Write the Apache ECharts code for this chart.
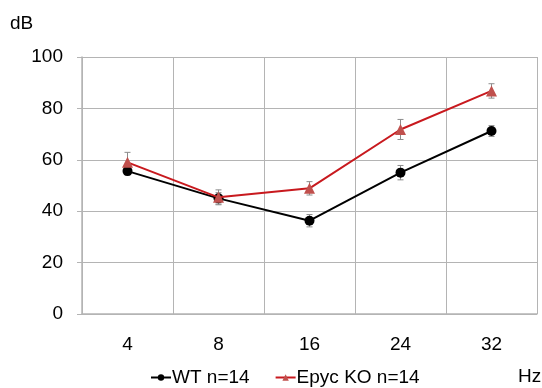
<!DOCTYPE html>
<html><head><meta charset="utf-8">
<script src="https://cdn.jsdelivr.net/npm/echarts@6/dist/echarts.min.js"></script>
<style>html,body{margin:0;padding:0;background:#fff}#c{width:542px;height:388px}</style>
</head><body><div id="c"></div>
<script>
var categories = ['4', '8', '16', '24', '32'];
var wtValues = [55.6, 45.0, 36.3, 55.0, 71.2];
var wtErr = [1.5, 2.2, 2.4, 2.8, 2.1];
var koValues = [59.0, 45.4, 48.9, 71.8, 86.8];
var koErr = [3.9, 2.9, 2.6, 3.9, 2.8];
var yTicks = [0, 20, 40, 60, 80, 100];
var FONT = 'Liberation Sans, Arial, sans-serif';

function errSeries(vals, errs, z) {
  return {
    type: 'custom', z: z, silent: true,
    data: vals.map(function (v, i) { return [i, v - errs[i], v + errs[i]]; }),
    renderItem: function (params, api) {
      var lo = api.coord([api.value(0), api.value(1)]);
      var hi = api.coord([api.value(0), api.value(2)]);
      var w = 3;
      var st = { stroke: '#8c8c8c', lineWidth: 1 };
      return { type: 'group', children: [
        { type: 'line', shape: { x1: lo[0], y1: lo[1], x2: hi[0], y2: hi[1] }, style: st },
        { type: 'line', shape: { x1: lo[0] - w, y1: lo[1], x2: lo[0] + w, y2: lo[1] }, style: st },
        { type: 'line', shape: { x1: hi[0] - w, y1: hi[1], x2: hi[0] + w, y2: hi[1] }, style: st }
      ]};
    }
  };
}

var chart = echarts.init(document.getElementById('c'));
chart.setOption({
  animation: false,
  textStyle: { fontFamily: FONT },
  grid: { left: 82, right: 5, top: 57, bottom: 74 },
  graphic: [
    { type: 'text', left: 10, top: 14, style: { text: 'dB', font: '19px ' + FONT, fill: '#000' } },
    { type: 'text', left: 518, top: 367, style: { text: 'Hz', font: '19px ' + FONT, fill: '#000' } }
  ],
  legend: {
    top: 363, left: 145, itemGap: 25, itemWidth: 20, itemHeight: 8,
    textStyle: { fontSize: 19, color: '#000', fontFamily: FONT, padding: [0, 0, 0, -4] },
    data: ['WT n=14', 'Epyc KO n=14']
  },
  xAxis: {
    type: 'category', data: categories, boundaryGap: true,
    axisLine: { lineStyle: { color: '#b4b4b4', width: 1.5 } },
    axisTick: { show: false },
    splitLine: { show: true, lineStyle: { color: '#b4b4b4', width: 1 } },
    axisLabel: { fontSize: 19, color: '#000', margin: 21, fontFamily: FONT }
  },
  yAxis: {
    type: 'value', min: 0, max: 100, interval: 20,
    axisLine: { show: true, lineStyle: { color: '#b4b4b4', width: 1.5 } },
    axisTick: { show: true, length: 5, inside: false, lineStyle: { color: '#b4b4b4' } },
    splitLine: { lineStyle: { color: '#b4b4b4', width: 1 } },
    axisLabel: { fontSize: 19, color: '#000', margin: 19, fontFamily: FONT,
      formatter: function (v) { return yTicks.indexOf(v) >= 0 ? String(v) : ''; } }
  },
  series: [
    errSeries(wtValues, wtErr, 3),
    errSeries(koValues, koErr, 3),
    { name: 'WT n=14', type: 'line', data: wtValues, z: 5,
      symbol: 'circle', symbolSize: 10,
      lineStyle: { color: '#000', width: 2 }, itemStyle: { color: '#000' } },
    { name: 'Epyc KO n=14', type: 'line', data: koValues, z: 6,
      symbol: 'triangle', symbolSize: 11,
      lineStyle: { color: '#c8191e', width: 2 }, itemStyle: { color: '#c0504d' } }
  ]
});
</script></body></html>
